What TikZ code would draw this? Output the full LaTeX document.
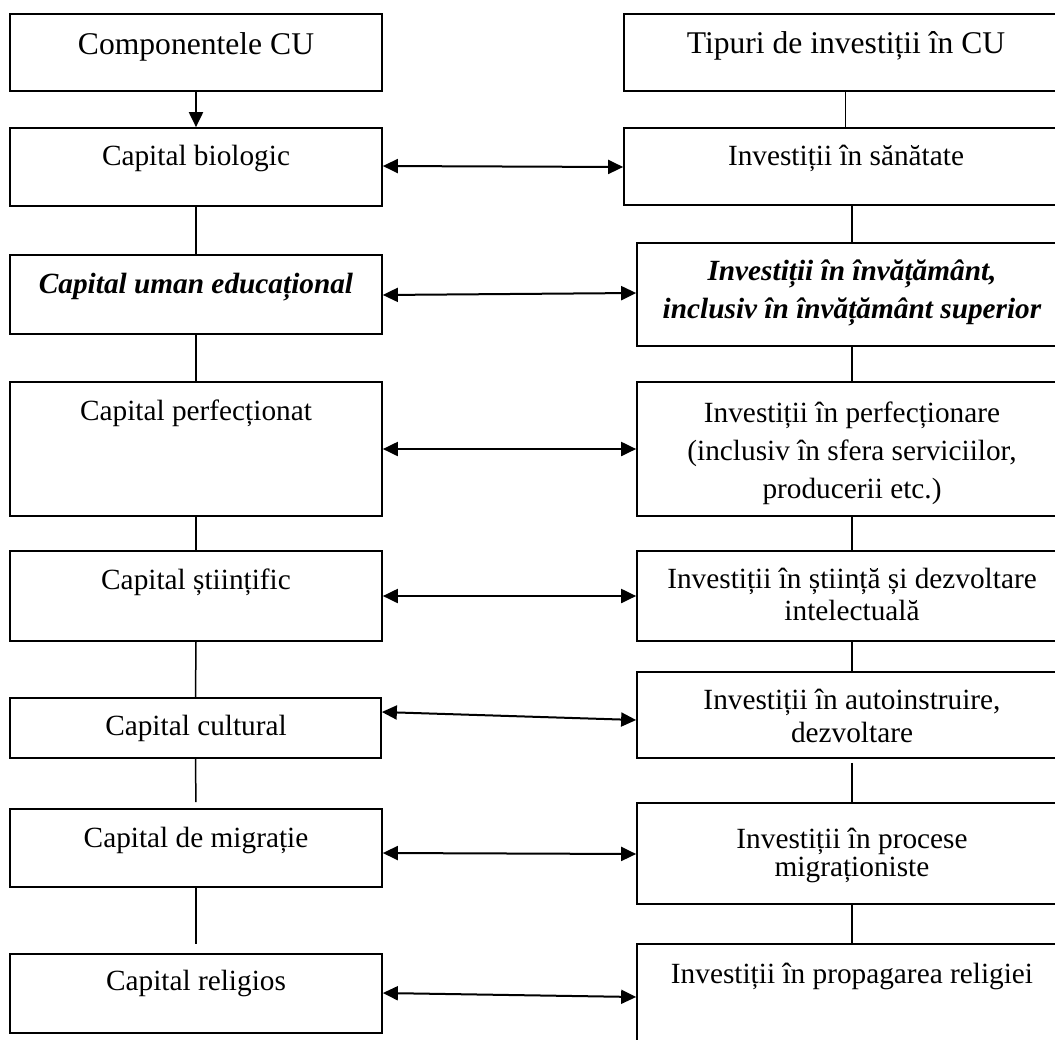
\documentclass[tikz,border=0pt]{standalone}
\usepackage{fontspec}
\setmainfont{Liberation Serif}
\usetikzlibrary{arrows.meta,fit}
\newcommand\fh[1]{\fontsize{31.6}{#1}\selectfont}
\newcommand\fs[1]{\fontsize{29.3}{#1}\selectfont}
\newcommand\mystrut{\rule{0pt}{25pt}}
\tikzset{
  box/.style={draw, line width=1.7pt, inner sep=0pt, rectangle},
  txt/.style={inner sep=0pt, align=center, anchor=north},
  ln/.style={line width=1.5pt},
  arr/.style={line width=2pt, -{Triangle[length=15pt,width=14pt]}},
  dbl/.style={line width=2pt, {Triangle[length=15pt,width=14pt]}-{Triangle[length=15pt,width=14pt]}}
}
\begin{document}
\begin{tikzpicture}[x=1pt,y=-1pt]
\useasboundingbox (0,0) rectangle (1055,1039);
\clip (0,0) rectangle (1055,1039);
\fill[white] (0,0) rectangle (1055,1039);
% left boxes
\node[box, fit={(10,14) (382,91)}] (L1) {};
\node[box, fit={(10,128) (382,206)}] (L2) {};
\node[box, fit={(10,255) (382,334)}] (L3) {};
\node[box, fit={(10,382) (382,516)}] (L4) {};
\node[box, fit={(10,551) (382,641)}] (L5) {};
\node[box, fit={(10,698) (381,758)}] (L6) {};
\node[box, fit={(10,809) (382,887)}] (L7) {};
\node[box, fit={(10,954) (382,1033)}] (L8) {};
% right boxes
\node[box, fit={(624,14) (1067,91)}] (R1) {};
\node[box, fit={(624,128) (1067,205)}] (R2) {};
\node[box, fit={(637,243) (1067,346)}] (R3) {};
\node[box, fit={(637,382) (1067,516)}] (R4) {};
\node[box, fit={(637,551) (1067,641)}] (R5) {};
\node[box, fit={(637,672) (1067,758)}] (R6) {};
\node[box, fit={(637,803) (1067,904)}] (R7) {};
\node[box, fit={(637,944) (1067,1070)}] (R8) {};
% left texts
\node[txt, font=\fh{38}] (tL1) at (196,29) {\mystrut Componentele CU};
\node[txt, font=\fs{38}] (tL2) at (196,140) {\mystrut Capital biologic};
\node[txt, font=\fs{38}\bfseries\itshape] (tL3) at (196,268) {\mystrut Capital uman educațional};
\node[txt, font=\fs{38}] (tL4) at (196,395) {\mystrut Capital perfecționat};
\node[txt, font=\fs{38}] (tL5) at (196,564) {\mystrut Capital științific};
\node[txt, font=\fs{38}] (tL6) at (196,710) {\mystrut Capital cultural};
\node[txt, font=\fs{38}] (tL7) at (196,822) {\mystrut Capital de migrație};
\node[txt, font=\fs{38}] (tL8) at (196,965) {\mystrut Capital religios};
% right texts
\node[txt, font=\fh{38}] (tR1) at (846,28) {\mystrut Tipuri de investiții în CU};
\node[txt, font=\fs{38}] (tR2) at (846,140) {\mystrut Investiții în sănătate};
\node[txt, font=\fs{38}\bfseries\itshape] (tR3) at (852,255) {\mystrut Investiții în învățământ,\\ inclusiv în învățământ superior};
\node[txt, font=\fs{38}] (tR4) at (852,397) {\mystrut Investiții în perfecționare\\ (inclusiv în sfera serviciilor,\\ producerii etc.)};
\node[txt, font=\fs{32}] (tR5) at (852,563) {\mystrut Investiții în știință și dezvoltare\\ intelectuală};
\node[txt, font=\fs{33}] (tR6) at (852,684) {\mystrut Investiții în autoinstruire,\\ dezvoltare};
\node[txt, font=\fs{28}] (tR7) at (852,823) {\mystrut Investiții în procese\\ migraționiste};
\node[txt, font=\fs{38}] (tR8) at (852,958) {\mystrut Investiții în propagarea religiei};
% left vertical connectors
\draw[arr] (L1.south) -- (L2.north);
\draw[ln] (L2.south) -- (L3.north);
\draw[ln] (L3.south) -- (L4.north);
\draw[ln] (L4.south) -- (L5.north);
\draw[ln] (L5.south) -- (L6.north);
\draw[ln, shorten >=6pt] (L6.south) -- (L7.north);
\draw[ln, shorten >=9pt] (L7.south) -- (L8.north);
% right vertical connectors
\draw[ln] (R1.south) -- (R2.north);
\draw[ln] (R3.north |- R2.south) -- (R3.north);
\draw[ln] (R3.south) -- (R4.north);
\draw[ln] (R4.south) -- (R5.north);
\draw[ln] (R5.south) -- (R6.north);
\draw[ln, shorten <=4pt] (R6.south) -- (R7.north);
\draw[ln] (R7.south) -- (R8.north);
% horizontal double arrows
\draw[dbl] (L2.east |- 0,166) -- (R2.west |- 0,167);
\draw[dbl] (L3.east |- 0,295) -- (R3.west |- 0,293);
\draw[dbl] (L4.east |- 0,449) -- (R4.west |- 0,449);
\draw[dbl] (L5.east |- 0,596) -- (R5.west |- 0,596);
\draw[dbl] (L6.east |- 0,712) -- (R6.west |- 0,720);
\draw[dbl] (L7.east |- 0,853) -- (R7.west |- 0,854);
\draw[dbl] (L8.east |- 0,993) -- (R8.west |- 0,997);
\end{tikzpicture}
\end{document}
